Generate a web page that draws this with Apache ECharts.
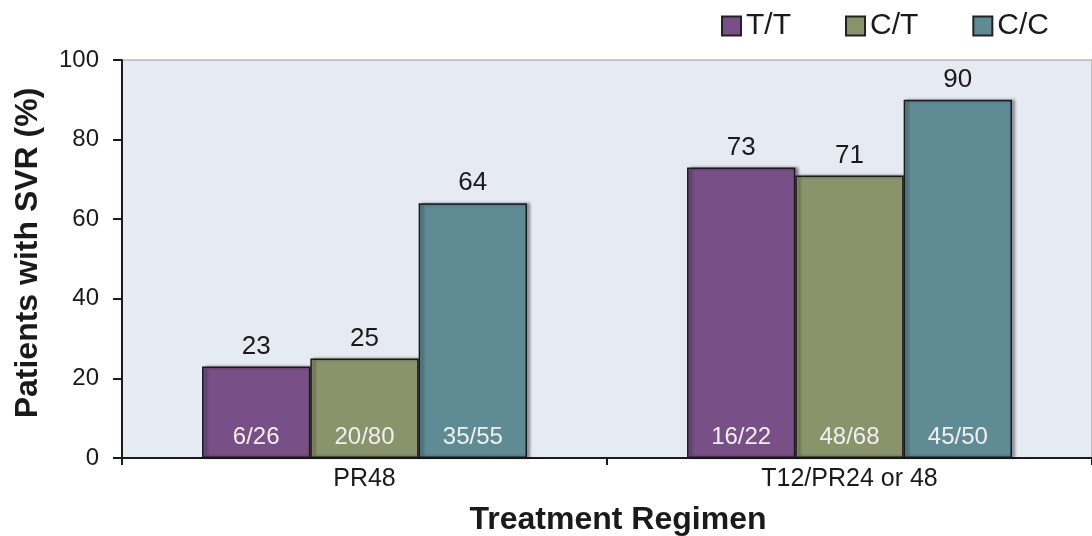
<!DOCTYPE html>
<html><head><meta charset="utf-8">
<script src="https://cdn.jsdelivr.net/npm/echarts@6/dist/echarts.min.js"></script>
<style>html,body{margin:0;padding:0;background:#fff}#c{width:1092px;height:536px}</style>
</head><body><div id="c"></div>
<script>
const categories = ['PR48', 'T12/PR24 or 48'];
const seriesNames = ['T/T', 'C/T', 'C/C'];
const valuesTT = [23, 73];
const valuesCT = [25, 71];
const valuesCC = [64, 90];
const fracTT = ['6/26', '16/22'];
const fracCT = ['20/80', '48/68'];
const fracCC = ['35/55', '45/50'];
const yTicks = [0, 20, 40, 60, 80, 100];

const colors = ['#784F86', '#8A936A', '#5F8C94'];
const values = [valuesTT, valuesCT, valuesCC];
const fracs = [fracTT, fracCT, fracCC];
const font = '"Liberation Sans", Arial, sans-serif';

const chart = echarts.init(document.getElementById('c'));
const series = [];
seriesNames.forEach((name, i) => {
  series.push({
    name: name, type: 'bar', xAxisIndex: 0, data: values[i],
    barGap: '0%', barCategoryGap: '33%',
    itemStyle: { color: colors[i], borderColor: '#1a1a1a', borderWidth: 1.5,
      shadowColor: 'rgba(0,0,0,0.45)', shadowBlur: 3, shadowOffsetX: 3, shadowOffsetY: 0 },
    label: { show: true, position: 'top', distance: 7, color: '#1a1a1a', fontSize: 26, fontFamily: font },
    z: 2
  });
});
seriesNames.forEach((name, i) => {
  series.push({
    name: name + '_f', type: 'bar', xAxisIndex: 1, data: values[i],
    barGap: '0%', barCategoryGap: '33%', silent: true,
    itemStyle: { color: 'transparent' },
    label: { show: true, position: 'insideBottom', distance: 9, color: '#f2eff4', fontSize: 24, fontFamily: font,
      formatter: p => fracs[i][p.dataIndex] },
    z: 3
  });
});

chart.setOption({
  animation: false,
  textStyle: { fontFamily: font },
  legend: {
    data: seriesNames.map((n, i) => ({ name: n, itemStyle: { color: colors[i], borderColor: '#222', borderWidth: 2 } })),
    right: 38, top: 6, itemWidth: 19, itemHeight: 19, itemGap: 54, icon: 'rect',
    textStyle: { fontSize: 30, color: '#1a1a1a', fontFamily: font, padding: [0, 0, 0, 0] }
  },
  grid: { left: 122, right: 0, top: 60, bottom: 78, containLabel: false, outerBoundsMode: 'none',
    show: true, backgroundColor: '#E6EAF3', borderColor: '#999', borderWidth: 1 },
  xAxis: [{
    type: 'category', data: categories,
    name: 'Treatment Regimen', nameLocation: 'middle', nameGap: 46,
    nameTextStyle: { fontSize: 32, fontWeight: 'bold', color: '#1a1a1a', fontFamily: font, padding: [0, 0, 0, 22] },
    axisLine: { lineStyle: { color: '#1a1a1a', width: 2 } },
    axisTick: { show: true, length: 7, lineStyle: { color: '#1a1a1a', width: 2 } },
    axisLabel: { fontSize: 25, color: '#1a1a1a', margin: 9, fontFamily: font }
  }, {
    type: 'category', data: categories, show: false
  }],
  yAxis: {
    type: 'value', min: 0, max: 100, interval: 20,
    name: 'Patients with SVR (%)', nameLocation: 'middle', nameGap: 78,
    nameTextStyle: { fontSize: 32, fontWeight: 'bold', color: '#1a1a1a', fontFamily: font, padding: [0, 0, 0, 12] },
    axisLine: { show: true, lineStyle: { color: '#1a1a1a', width: 2 } },
    axisTick: { show: true, length: 9, lineStyle: { color: '#1a1a1a', width: 2 } },
    axisLabel: { fontSize: 24, color: '#1a1a1a', margin: 23, fontFamily: font, formatter: v => yTicks.includes(v) ? String(v) : '' },
    splitLine: { show: false }
  },
  series: series
});
</script></body></html>
